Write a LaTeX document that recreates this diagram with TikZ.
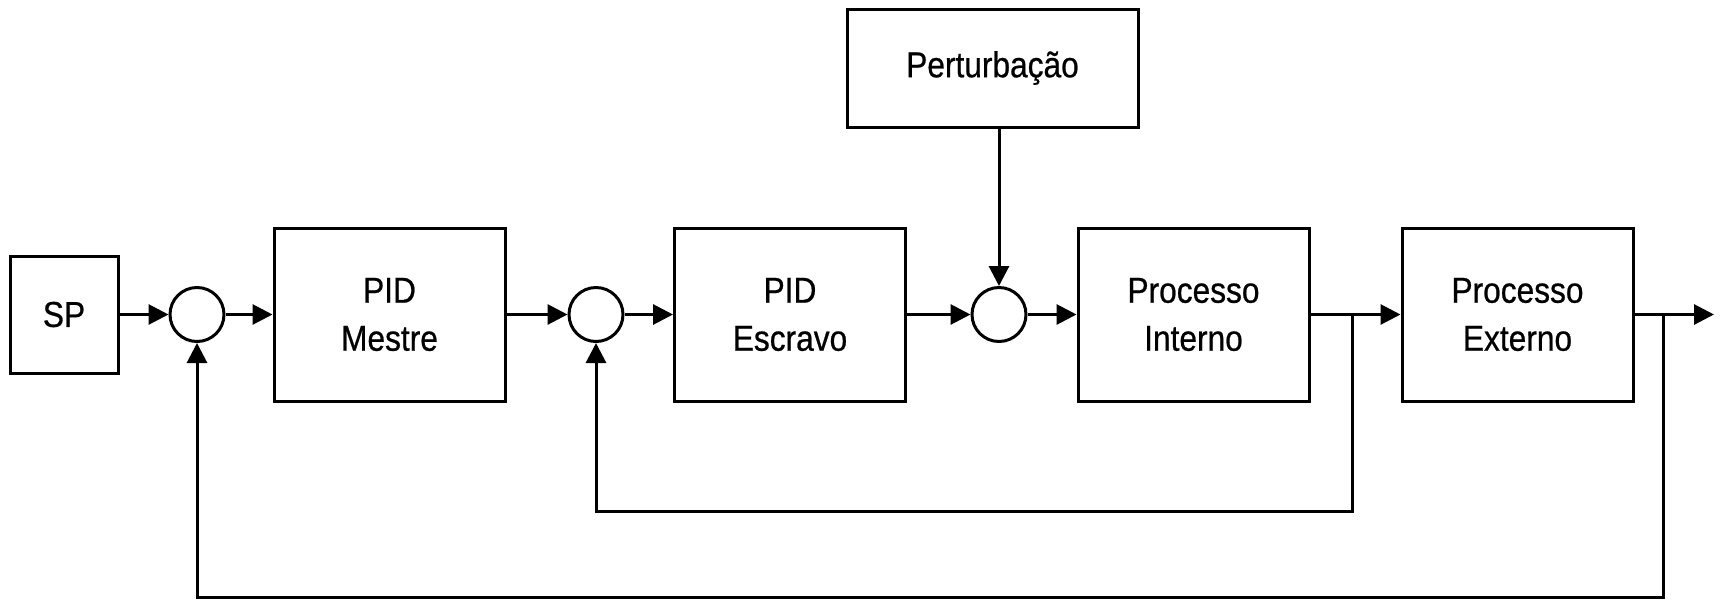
\documentclass[tikz,border=0pt]{standalone}
\usepackage{fontspec}
\setmainfont{Liberation Sans}[FakeStretch=0.88,FakeBold=0.6]
\usetikzlibrary{arrows.meta}
\begin{document}
\begin{tikzpicture}[x=0.5pt,y=-0.5pt,
  blk/.style={draw, line width=1.5pt, minimum width=115.5pt, minimum height=86.5pt,
    align=center, inner sep=0pt, font=\fontsize{18}{24}\selectfont},
  sumc/.style={draw, circle, line width=1.5pt, minimum size=27pt, inner sep=0pt},
  conn/.style={line width=1.5pt, -{Triangle[length=10pt,width=10pt]}},
  wire/.style={line width=1.5pt}]
\useasboundingbox (0,0) rectangle (1721,601);
\node[blk, minimum width=54pt, minimum height=58.5pt] (sp) at (64,314.5) {SP};
\node[sumc] (sum1) at (197,314.5) {};
\node[blk] (mestre) at (389.5,314.5) {PID\\Mestre};
\node[sumc] (sum2) at (596,314.5) {};
\node[blk] (escravo) at (790,314.5) {PID\\Escravo};
\node[sumc] (sum3) at (999,314.5) {};
\node[blk] (interno) at (1193.5,314.5) {Processo\\Interno};
\node[blk] (externo) at (1517.5,314.5) {Processo\\Externo};
\node[blk, minimum width=145.5pt, minimum height=59pt] (pert) at (992.5,68) {Perturbação};
\coordinate (j1) at (1352,314.5);
\coordinate (fb1) at (1352,511);
\coordinate (j2) at (1663,314.5);
\coordinate (fb2) at (1663,597);
\coordinate (out) at (1714,314.5);
\draw[conn] (sp) -- (sum1);
\draw[conn] (sum1) -- (mestre);
\draw[conn] (mestre) -- (sum2);
\draw[conn] (sum2) -- (escravo);
\draw[conn] (escravo) -- (sum3);
\draw[conn] (sum3) -- (interno);
\draw[conn] (interno) -- (externo);
\draw[conn] (externo) -- (out);
\draw[conn] (pert.south -| sum3) -- (sum3.north);
\draw[conn] (j1) -- (fb1) -| (sum2.south);
\draw[conn] (j2) -- (fb2) -| (sum1.south);
\end{tikzpicture}
\end{document}
